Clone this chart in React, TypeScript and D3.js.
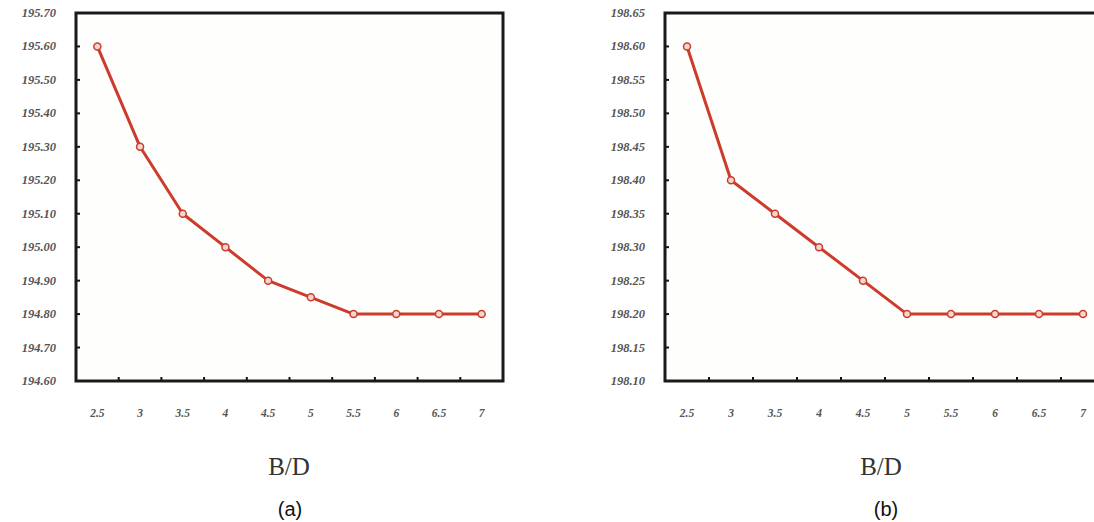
import React from "react";
import * as d3 from "d3";

const categories = ["2.5", "3", "3.5", "4", "4.5", "5", "5.5", "6", "6.5", "7"];
const seriesA = [195.6, 195.3, 195.1, 195.0, 194.9, 194.85, 194.8, 194.8, 194.8, 194.8];
const seriesB = [198.6, 198.4, 198.35, 198.3, 198.25, 198.2, 198.2, 198.2, 198.2, 198.2];
const ticksA = [194.6, 194.7, 194.8, 194.9, 195.0, 195.1, 195.2, 195.3, 195.4, 195.5, 195.6, 195.7];
const ticksB = [198.1, 198.15, 198.2, 198.25, 198.3, 198.35, 198.4, 198.45, 198.5, 198.55, 198.6, 198.65];
const xTitle = "B/D";

type PanelProps = {
  left: number;
  right: number;
  top: number;
  bottom: number;
  values: number[];
  ticks: number[];
  titleX: number;
  captionX: number;
  caption: string;
};

const LINE = "#cc3b2b";

function Panel({ left, right, top, bottom, values, ticks, titleX, captionX, caption }: PanelProps) {
  const x = d3.scaleBand<string>().domain(categories).range([left, right]).padding(0);
  const y = d3.scaleLinear().domain([ticks[0], ticks[ticks.length - 1]]).range([bottom, top]);
  const line = d3
    .line<number>()
    .x((_, i) => (x(categories[i]) as number) + x.bandwidth() / 2)
    .y((v) => y(v));
  const boundaries = categories.slice(1).map((c) => x(c) as number);
  return (
    <g>
      <rect x={left} y={top} width={right - left} height={bottom - top} fill="#fefefc" />
      {ticks.map((t) => (
        <g key={t}>
          <line x1={left} x2={left + 4} y1={y(t)} y2={y(t)} stroke="#111" strokeWidth={2} />
          <text
            x={left - 20}
            y={y(t)}
            textAnchor="end"
            dominantBaseline="central"
            fontFamily="'Liberation Serif', 'DejaVu Serif', serif"
            fontStyle="italic"
            fontWeight="bold"
            fontSize={12.5}
            fill="#555"
          >
            {t.toFixed(2)}
          </text>
        </g>
      ))}
      {boundaries.map((b, i) => (
        <line key={i} x1={b} x2={b} y1={bottom} y2={bottom - 4} stroke="#111" strokeWidth={2} />
      ))}
      {categories.map((c) => (
        <text
          key={c}
          x={(x(c) as number) + x.bandwidth() / 2}
          y={413}
          textAnchor="middle"
          dominantBaseline="central"
          fontFamily="'Liberation Serif', 'DejaVu Serif', serif"
          fontStyle="italic"
          fontWeight="bold"
          fontSize={11.5}
          fill="#555"
        >
          {c}
        </text>
      ))}
      <rect
        x={left}
        y={top}
        width={right - left}
        height={bottom - top}
        fill="none"
        stroke="#1a1a1a"
        strokeWidth={3}
      />
      <path d={line(values) || ""} fill="none" stroke={LINE} strokeWidth={3} strokeLinejoin="round" />
      {values.map((v, i) => (
        <circle
          key={i}
          cx={(x(categories[i]) as number) + x.bandwidth() / 2}
          cy={y(v)}
          r={3.5}
          fill="#f3d6d0"
          stroke={LINE}
          strokeWidth={1.5}
        />
      ))}
      <text
        x={titleX}
        y={466}
        textAnchor="middle"
        dominantBaseline="central"
        fontFamily="'Liberation Serif', 'DejaVu Serif', serif"
        fontSize={25}
        fill="#333"
      >
        {xTitle}
      </text>
      <text
        x={captionX}
        y={509}
        textAnchor="middle"
        dominantBaseline="central"
        fontFamily="'Liberation Sans', Arial, sans-serif"
        fontSize={20}
        fill="#111"
      >
        {caption}
      </text>
    </g>
  );
}

export default function App() {
  return (
    <svg
      width={1094}
      height={522}
      style={{ position: "absolute", left: 0, top: 0, background: "#ffffff" }}
    >
      <Panel
        left={76}
        right={503}
        top={13}
        bottom={381}
        values={seriesA}
        ticks={ticksA}
        titleX={289}
        captionX={290}
        caption="(a)"
      />
      <Panel
        left={665}
        right={1105}
        top={13}
        bottom={381}
        values={seriesB}
        ticks={ticksB}
        titleX={881}
        captionX={886}
        caption="(b)"
      />
    </svg>
  );
}
